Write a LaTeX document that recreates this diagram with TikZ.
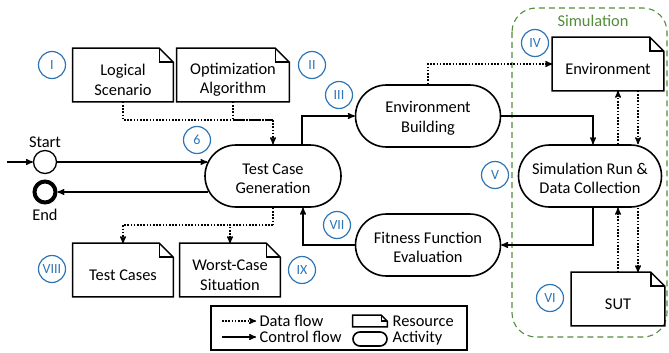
\documentclass[tikz,border=0pt]{standalone}
\usepackage{fontspec}
\setmainfont{Carlito}
\usetikzlibrary{arrows,shapes.misc,positioning}
\definecolor{markblue}{RGB}{46,117,182}
\definecolor{simgreen}{RGB}{84,140,60}
% outline of a resource (sheet with a folded corner) around a plain node
\newcommand{\resfold}[2]{%
  \draw[line width=1.5pt,line join=miter] (#1.south west) -- (#1.north west) -- ([xshift=-#2]#1.north east)
    -- ([yshift=-#2]#1.north east) -- (#1.south east) -- cycle;
  \draw[line width=1.5pt] ([xshift=-#2]#1.north east) |- ([yshift=-#2]#1.north east);}
% extra room above the first text line
\newcommand{\topgap}{\rule{0pt}{21pt}}
\newcommand{\actgap}{\rule{0pt}{16pt}}

\begin{document}
\begin{tikzpicture}[x=1pt,y=-1pt,>=stealth',semithick,
  font=\fontsize{16.4}{19.5}\selectfont,
  activity/.style={rounded rectangle,draw,line width=1.6pt,align=center,minimum height=62,inner sep=2pt},
  resource/.style={rectangle,align=center,minimum height=53,inner sep=2pt},
  icon/.style={minimum width=34,inner sep=0pt},
  marker/.style={circle,draw=markblue,line width=1.2pt,text=markblue,minimum size=27,inner sep=0pt,
    font=\fontsize{14}{16}\selectfont},
  control/.style={->,line width=1.4pt},
  data/.style={->,line width=1.4pt,dash pattern=on 1.6pt off 1.6pt},
  group/.style={draw=simgreen,dashed,dash pattern=on 6pt off 4pt,line width=1.1pt,rounded corners=24pt}]
  \useasboundingbox (0,0) rectangle (669,353);

  % simulation group
  \draw[group] (512,8) rectangle (667,337);
  \node[text=simgreen] (simlbl) at (593,21) {Simulation};

  % activities
  \node[activity, minimum width=140] (tcg) at (273,176) {\actgap Test Case\\Generation};
  \node[activity, minimum width=149] (envb) at (428,116) {\actgap Environment\\Building};
  \node[activity, minimum width=147] (simrun) at (590,176) {\actgap Simulation Run \&\\Data Collection};
  \node[activity, minimum width=149] (fit) at (428,245) {\actgap Fitness Function\\Evaluation};

  % resources
  \node[resource, minimum width=100] (ls) at (123,75) {\topgap Logical\\Scenario};
  \node[resource, minimum width=112] (oa) at (233,75) {\topgap Optimization\\Algorithm};
  \node[resource, minimum width=111] (envdoc) at (608,64) {\topgap Environment};
  \node[resource, minimum width=93] (sut) at (618,299) {\topgap SUT};
  \node[resource, minimum width=100] (tc) at (123,270) {\topgap Test Cases};
  \node[resource, minimum width=100] (wc) at (230,270) {\topgap Worst-Case\\Situation};
  \foreach \n in {ls,oa,envdoc,sut,tc,wc} {\resfold{\n}{14pt}}

  % start and end
  \node[circle,draw,line width=1.3pt,minimum size=23,inner sep=0pt] (start) at (45,162) {};
  \node[above=-1pt of start] (startlbl) {Start};
  \node[circle,draw,line width=4pt,minimum size=21,inner sep=0pt] (end) at (45,192) {};
  \node[below=1pt of end] (endlbl) {End};
  \coordinate (entry) at (7,162);

  % step numbers
  \node[marker] (mI) at (52,65) {I};
  \node[marker] (mII) at (312,65) {II};
  \node[marker] (mIII) at (339,95) {III};
  \node[marker] (mIV) at (535,43) {IV};
  \node[marker] (mV) at (495,175) {V};
  \node[marker] (mVI) at (550,298) {VI};
  \node[marker] (mVII) at (337,225) {VII};
  \node[marker] (mVIII) at (52,269) {VIII};
  \node[marker] (mIX) at (302,270) {IX};
  \node[marker] (msix) at (197,140) {6};

  % control flow
  \draw[control] (entry) -- (start);
  \draw[control] (start) -- (start -| tcg.168);
  \draw[control] (end -| tcg.193) -- (end);
  \draw[control] ([xshift=29pt]tcg.north) |- (envb);
  \draw[control] (envb) -| ([xshift=3pt]simrun.north);
  \draw[control] ([xshift=3pt]simrun.south) |- (fit);
  \draw[control] (fit) -| ([xshift=30pt]tcg.south);

  % data flow
  \coordinate (merge) at (273,120);
  \draw[data,-] (ls) |- (merge);
  \draw[data,-] (oa) |- (merge);
  \draw[data] (merge) -- (tcg);
  \draw[data] (envb) |- (envdoc);
  \draw[data] ([xshift=28pt]simrun.north) -- ([xshift=28pt]simrun.north |- envdoc.south);
  \draw[data] ([xshift=48pt]simrun.north |- envdoc.south) -- ([xshift=48pt]simrun.north);
  \draw[data] ([xshift=28pt]simrun.south |- sut.north) -- ([xshift=28pt]simrun.south);
  \draw[data] ([xshift=48pt]simrun.south) -- ([xshift=48pt]simrun.south |- sut.north);
  \coordinate (split) at (273,225);
  \draw[data,-] (tcg) -- (split);
  \draw[data] (split) -| (tc);
  \draw[data] (split) -| (wc);

  % legend
  \node[draw,line width=1.5pt,minimum width=256,minimum height=44,inner sep=0pt] (legend) at (339,328) {};
  \node[anchor=west] (ldata) at (256,321) {Data flow};
  \node[anchor=west] (lctrl) at (256,337) {Control flow};
  \coordinate (ldfrom) at (222,321);
  \coordinate (lcfrom) at (222,337);
  \draw[data] (ldfrom) -- (ldata.west);
  \draw[control] (lcfrom) -- (lctrl.west);
  \node[rectangle, icon, minimum height=11] (lres) at (370,321) {};
  \resfold{lres}{6pt}
  \node[rounded rectangle, draw, line width=1.6pt, icon, minimum height=14] (lact) at (370,339) {};
  \node[anchor=west] (lrestxt) at (389,321) {Resource};
  \node[anchor=west] (lacttxt) at (389,338) {Activity};
\end{tikzpicture}
\end{document}
